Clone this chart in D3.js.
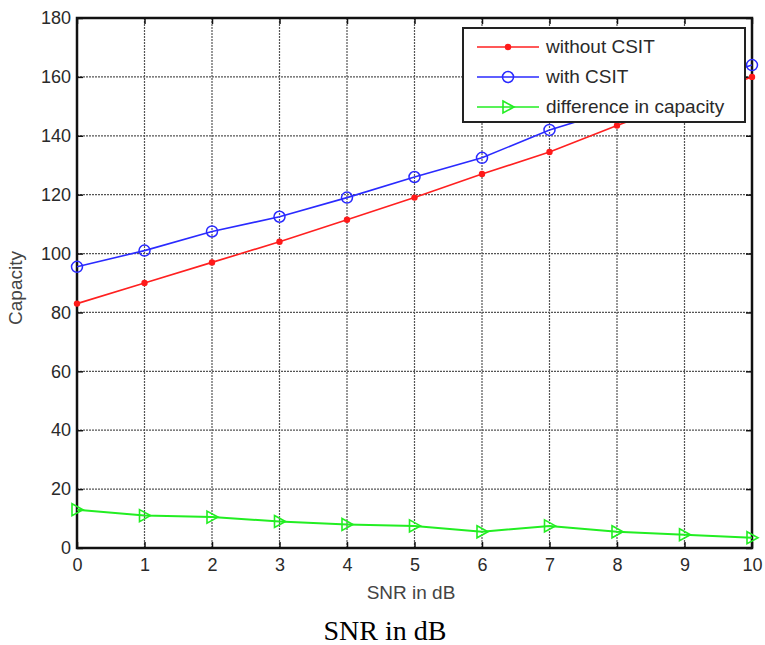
<!DOCTYPE html>
<html>
<head>
<meta charset="utf-8">
<script src="https://cdn.jsdelivr.net/npm/d3@7"></script>
<style>
  body { margin: 0; background: #fff; }
  svg { display: block; }
</style>
</head>
<body>
<div id="chart"></div>
<script>
/* data */
var snr = [0, 1, 2, 3, 4, 5, 6, 7, 8, 9, 10];
var withoutCsit = [83, 90, 97, 104, 111.5, 119, 127, 134.5, 143.5, 152, 160];
var withCsit = [95.5, 101, 107.5, 112.5, 119, 126, 132.5, 142, 149, 156.5, 164];
var difference = [13, 11, 10.5, 9, 8, 7.5, 5.5, 7.5, 5.5, 4.5, 3.5];
var yTicks = [0, 20, 40, 60, 80, 100, 120, 140, 160, 180];
var seriesNames = ["without CSIT", "with CSIT", "difference in capacity"];

var W = 765, H = 645;
var margin = {top: 18, right: 13, bottom: 97, left: 77};
var width = W - margin.left - margin.right,
    height = H - margin.top - margin.bottom;

var sans = "Liberation Sans, Arial, sans-serif";

var svg = d3.select("#chart").append("svg")
    .attr("width", W)
    .attr("height", H);

var g = svg.append("g")
    .attr("transform", "translate(" + margin.left + "," + margin.top + ")");

var x = d3.scaleLinear().domain([0, 10]).range([0, width]);
var y = d3.scaleLinear().domain([0, 180]).range([height, 0]);

/* grid */
g.append("g").selectAll("line")
    .data(snr.slice(1, -1))
    .enter().append("line")
    .attr("x1", d => x(d)).attr("x2", d => x(d))
    .attr("y1", 0).attr("y2", height)
    .attr("stroke", "#555").attr("stroke-width", 1.2)
    .attr("stroke-dasharray", "2,1");

g.append("g").selectAll("line")
    .data(yTicks.slice(1, -1))
    .enter().append("line")
    .attr("y1", d => y(d)).attr("y2", d => y(d))
    .attr("x1", 0).attr("x2", width)
    .attr("stroke", "#555").attr("stroke-width", 1.2)
    .attr("stroke-dasharray", "2,1");

/* axes */
var xAxis = g.append("g")
    .attr("transform", "translate(0," + height + ")")
    .call(d3.axisBottom(x).tickValues(snr).tickSize(-6).tickPadding(10));

var yAxis = g.append("g")
    .call(d3.axisLeft(y).tickValues(yTicks).tickSize(-6).tickPadding(6));

var yAxisR = g.append("g")
    .attr("transform", "translate(" + width + ",0)")
    .call(d3.axisRight(y).tickValues(yTicks).tickSize(-6).tickFormat(""));

var xAxisT = g.append("g")
    .call(d3.axisTop(x).tickValues(snr).tickSize(-6).tickFormat(""));

[xAxis, yAxis, yAxisR, xAxisT].forEach(function(a) {
  a.select(".domain").remove();
  a.selectAll("line").attr("stroke", "#111").attr("stroke-width", 1.5);
  a.selectAll("text")
    .attr("font-family", sans)
    .attr("font-size", "18px")
    .attr("fill", "#2a2a2a");
});

g.append("rect")
    .attr("width", width).attr("height", height)
    .attr("fill", "none")
    .attr("stroke", "#111").attr("stroke-width", 2.5);

/* lines */
var line = d3.line()
    .x((d, i) => x(snr[i]))
    .y(d => y(d));

var plot = g.append("g");

plot.append("path").datum(withoutCsit)
    .attr("d", line).attr("fill", "none")
    .attr("stroke", "#ff2020").attr("stroke-width", 1.6);
plot.append("path").datum(withCsit)
    .attr("d", line).attr("fill", "none")
    .attr("stroke", "#2a2aff").attr("stroke-width", 1.6);
plot.append("path").datum(difference)
    .attr("d", line).attr("fill", "none")
    .attr("stroke", "#22ee22").attr("stroke-width", 2);

function dot(sel, cx, cy) {
  sel.append("circle").attr("cx", cx).attr("cy", cy).attr("r", 3.2)
    .attr("fill", "#ff1a1a");
}
function ring(sel, cx, cy) {
  sel.append("circle").attr("cx", cx).attr("cy", cy).attr("r", 5.5)
    .attr("fill", "none").attr("stroke", "#2a2aff").attr("stroke-width", 1.5);
}
function tri(sel, cx, cy) {
  sel.append("path")
    .attr("d", "M" + (cx - 5) + "," + (cy - 6) + "L" + (cx + 6) + "," + cy +
               "L" + (cx - 5) + "," + (cy + 6) + "Z")
    .attr("fill", "none").attr("stroke", "#22ee22").attr("stroke-width", 1.6);
}

withoutCsit.forEach((d, i) => dot(plot, x(snr[i]), y(d)));
withCsit.forEach((d, i) => ring(plot, x(snr[i]), y(d)));
difference.forEach((d, i) => tri(plot, x(snr[i]), y(d)));

/* legend */
var legend = svg.append("g").attr("transform", "translate(463,28)");
legend.append("rect")
    .attr("width", 282).attr("height", 94)
    .attr("fill", "#fff")
    .attr("stroke", "#222").attr("stroke-width", 2);

var markers = [dot, ring, tri];
var colors = ["#ff2020", "#2a2aff", "#22ee22"];
seriesNames.forEach(function(name, i) {
  var cy = 19 + i * 30;
  legend.append("line")
    .attr("x1", 14).attr("x2", 76).attr("y1", cy).attr("y2", cy)
    .attr("stroke", colors[i]).attr("stroke-width", 1.6);
  markers[i](legend, 45, cy);
  legend.append("text")
    .attr("x", 83).attr("y", cy + 6)
    .attr("font-family", sans)
    .attr("font-size", "19px")
    .attr("fill", "#2a2a2a")
    .text(name);
});

/* axis titles */
svg.append("text")
    .attr("x", 411).attr("y", 599)
    .attr("text-anchor", "middle")
    .attr("font-family", sans)
    .attr("font-size", "19px").attr("fill", "#444")
    .text("SNR in dB");

svg.append("text")
    .attr("transform", "translate(22,288) rotate(-90)")
    .attr("text-anchor", "middle")
    .attr("font-family", sans)
    .attr("font-size", "19px").attr("fill", "#444")
    .text("Capacity");

/* caption under the figure */
svg.append("text")
    .attr("x", 385).attr("y", 640)
    .attr("text-anchor", "middle")
    .attr("font-family", "Liberation Serif, Times New Roman, serif")
    .attr("font-size", "28px").attr("fill", "#000")
    .text("SNR in dB");
</script>
</body>
</html>
